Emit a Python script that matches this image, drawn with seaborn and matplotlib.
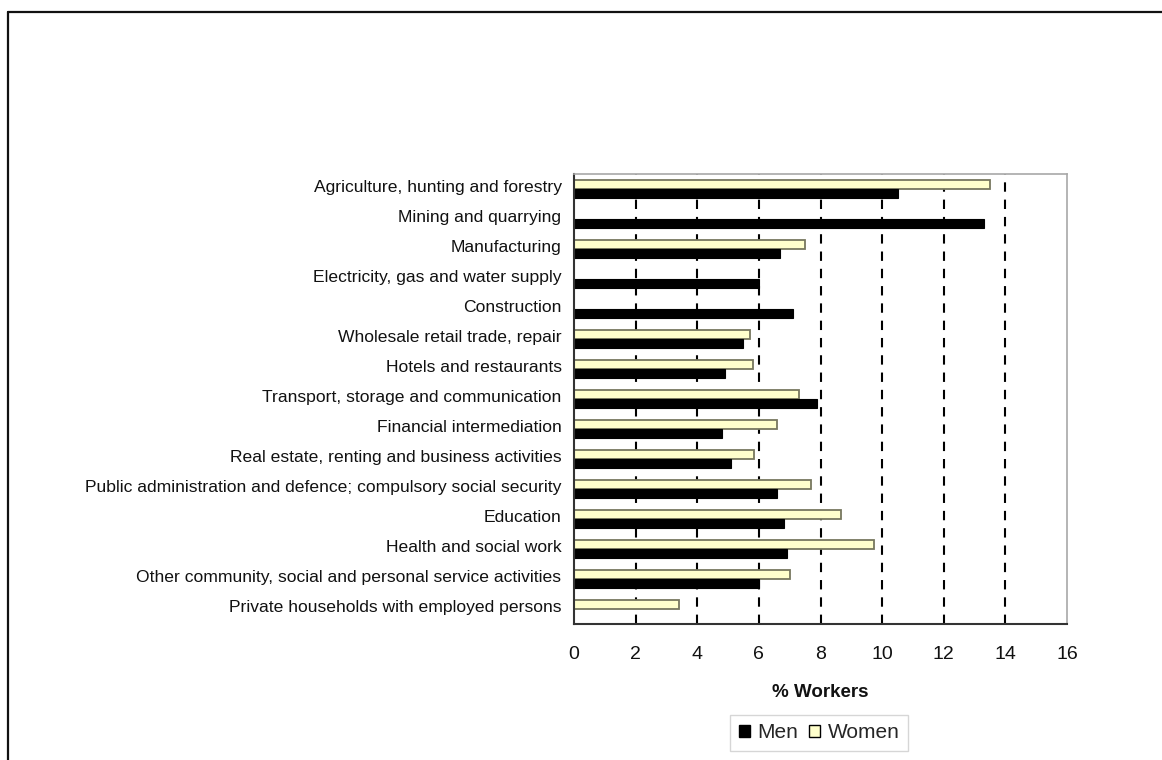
import numpy as np
import pandas as pd
import seaborn as sns
import matplotlib.pyplot as plt
import matplotlib.transforms as mtransforms
from matplotlib.patches import Patch
from matplotlib.lines import Line2D

# Share of workers by sector of economic activity, by sex (%)
sectors = [
    "Agriculture, hunting and forestry",
    "Mining and quarrying",
    "Manufacturing",
    "Electricity, gas and water supply",
    "Construction",
    "Wholesale retail trade, repair",
    "Hotels and restaurants",
    "Transport, storage and communication",
    "Financial intermediation",
    "Real estate, renting and business activities",
    "Public administration and defence; compulsory social security",
    "Education",
    "Health and social work",
    "Other community, social and personal service activities",
    "Private households with employed persons",
]
men = [10.5, 13.3, 6.7, 6.0, 7.1, 5.5, 4.9, 7.9, 4.8, 5.1, 6.6, 6.8, 6.9, 6.0, np.nan]
women = [13.5, np.nan, 7.5, np.nan, np.nan, 5.7, 5.8, 7.3, 6.6, 5.85, 7.7, 8.65, 9.75, 7.0, 3.4]
x_ticks = [0, 2, 4, 6, 8, 10, 12, 14, 16]

df = pd.DataFrame({
    "sector": sectors * 2,
    "sex": ["Men"] * len(sectors) + ["Women"] * len(sectors),
    "pct": men + women,
})

sns.set_style("white")
plt.rcParams["font.family"] = ["Liberation Sans", "DejaVu Sans"]

W, H = 1162, 760
fig = plt.figure(figsize=(W / 100, H / 100), dpi=100)
ax = fig.add_axes([574 / W, 1 - 624 / H, (1067 - 574) / W, (624 - 174) / H])

men_col = "#000000"
women_col = "#ffffcc"
sns.barplot(data=df, y="sector", x="pct", hue="sex", hue_order=["Women", "Men"],
            order=sectors, orient="h", width=0.6, saturation=1,
            palette={"Men": men_col, "Women": women_col}, ax=ax, legend=False)

for bar in ax.patches:
    fc = bar.get_facecolor()
    if fc[0] > 0.5:
        bar.set_edgecolor("#77775f")
        bar.set_linewidth(1.3)
    else:
        bar.set_edgecolor("#000000")
        bar.set_linewidth(0.8)

# dashed vertical gridlines
for v in x_ticks[1:-1]:
    ax.axvline(v, color="black", lw=1.5, linestyle=(0, (4.5, 3.8)), zorder=0)

ax.set_xlim(0, 16)
ax.set_ylim(len(sectors) - 0.5, -0.5)
ax.set_xticks(x_ticks)
ax.set_xticklabels([str(t) for t in x_ticks], fontsize=14, color="#111111")
ax.set_yticks(range(len(sectors)))
ax.set_yticklabels(sectors, fontsize=12.6, color="#111111")
ax.set_yticks(np.arange(-0.5, len(sectors), 1), minor=True)
ax.tick_params(axis="y", which="major", length=0, pad=9)
ax.tick_params(axis="y", which="minor", length=5, width=1.2, direction="out", color="#333333")
ax.tick_params(axis="x", which="major", length=4, width=1.2, direction="out",
               color="#333333", pad=12)
ax.set_ylabel("")
ax.set_xlabel("% Workers", fontsize=13.5, fontweight="bold", labelpad=15, color="#111111")

# category labels sit a little above the bar pair centre
lift = mtransforms.ScaledTranslation(0, 3 / 100, fig.dpi_scale_trans)
for lbl in ax.get_yticklabels():
    lbl.set_transform(lbl.get_transform() + lift)

for side in ("left", "bottom"):
    ax.spines[side].set_color("#333333")
    ax.spines[side].set_linewidth(1.5)
for side in ("top", "right"):
    ax.spines[side].set_color("#a8a8a8")
    ax.spines[side].set_linewidth(1.2)

handles = [
    Patch(facecolor=men_col, edgecolor="black", label="Men"),
    Patch(facecolor=women_col, edgecolor="black", label="Women"),
]
fig.legend(handles=handles, loc="center", bbox_to_anchor=(819 / W, 1 - 733 / H),
           ncol=2, fontsize=15, frameon=True, fancybox=False, edgecolor="#cccccc",
           handlelength=0.55, handleheight=0.55, handletextpad=0.35, columnspacing=0.5,
           borderpad=0.4)

# outer page frame
fig.add_artist(Line2D([8 / W, 1.0], [1 - 12 / H, 1 - 12 / H], transform=fig.transFigure,
                      color="#111111", lw=1.6))
fig.add_artist(Line2D([8 / W, 8 / W], [1 - 12 / H, 0.0], transform=fig.transFigure,
                      color="#111111", lw=1.6))

fig.savefig("out.png", dpi=100, facecolor="white")
